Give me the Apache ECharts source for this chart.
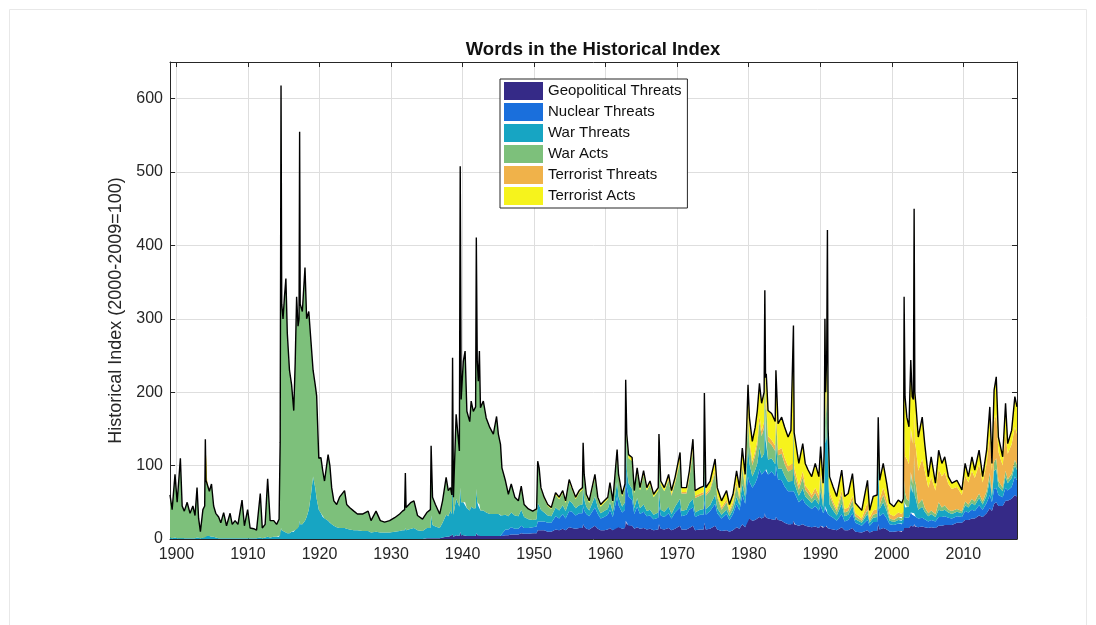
<!DOCTYPE html>
<html><head><meta charset="utf-8">
<script src="https://cdn.jsdelivr.net/npm/echarts@6/dist/echarts.min.js"></script>
<style>html,body{margin:0;padding:0;background:#fff}#c{width:1096px;height:625px}</style>
</head><body><div id="c"></div>
<script>
const years = [
1899.1,1899.4,1899.8,1900.1,1900.55,1900.8,1901.1,1901.5,1901.9,1902.3,
1902.6,1902.88,1903.1,1903.35,1903.7,1903.95,1904.04,1904.13,1904.3,1904.6,
1904.9,1905.2,1905.5,1905.9,1906.2,1906.6,1907.0,1907.5,1907.8,1908.2,
1908.6,1909.17,1909.5,1909.95,1910.3,1910.8,1911.2,1911.72,1912.0,1912.4,
1912.75,1913.1,1913.6,1914.0,1914.35,
1914.5,1914.62,1914.72,1914.9,1915.1,1915.3,1915.5,1915.8,1916.1,1916.4,
1916.6,1916.8,1917.0,1917.14,1917.22,1917.3,1917.6,1917.97,1918.2,1918.5,
1918.8,1919.1,1919.4,1919.6,1919.9,1920.2,1920.45,1920.7,1921.2,1921.45,
1921.7,1922.0,1922.4,1922.8,1923.5,1923.8,1924.2,1924.8,1925.3,1926.0,
1926.8,1927.2,1927.9,1928.5,1929.1,1929.8,1930.5,1931.2,1931.6,1931.9,
1932.0,1932.1,1932.8,1933.2,1933.7,1934.4,
1935.0,1935.5,1935.6,1935.8,1936.2,1936.8,1937.2,1937.7,1938.0,1938.3,
1938.5,1938.6,1938.72,1939.1,1939.55,1939.67,1939.8,1940.1,1940.35,1940.6,
1941.0,1941.2,1941.5,1941.82,1941.92,1942.05,1942.2,1942.35,1942.5,1942.9,
1943.3,1943.8,1944.3,1944.75,1945.0,1945.3,
1945.5,1946.0,1946.4,1946.8,1947.3,1947.8,1948.2,1948.6,1949.2,1949.8,
1950.35,1950.5,1950.7,1950.95,1951.4,1951.9,1952.4,1953.0,1953.5,1954.0,
1954.4,1954.9,1955.3,1955.8,1956.3,1956.75,1956.85,1957.0,1957.3,1957.7,
1958.5,1958.9,1959.3,1959.8,1960.3,1960.6,
1961.0,1961.6,1961.8,1962.3,1962.7,1962.8,1962.95,1963.2,1963.7,1964.0,
1964.4,1964.8,1965.3,1965.75,1966.2,1966.7,1967.35,1967.45,1967.7,1968.2,
1968.8,1969.2,1969.7,1970.4,1970.6,1971.3,1971.7,1972.2,1972.5,1973.2,
1973.7,1973.8,1974.0,1974.6,1975.3,1975.6,1976.2,1976.9,1977.3,1977.8,
1978.3,1978.7,1979.1,1979.5,1979.9,
1980.1,1980.5,1980.9,1981.2,1981.5,1981.8,1982.15,1982.25,1982.35,1982.45,
1982.7,1983.2,1983.7,1983.8,1984.1,1984.6,1985.0,1985.5,1985.9,1986.15,
1986.25,1986.35,1986.45,1987.0,1987.55,1987.9,1988.3,1988.8,1989.3,1989.8,
1990.05,1990.4,1990.55,1990.65,1990.75,1990.9,1991.0,1991.1,1991.3,1991.8,
1992.3,1993.0,1993.4,1993.9,1994.5,1994.9,1995.8,1996.6,1996.9,1997.4,
1997.95,
1998.1,1998.3,1998.8,1999.3,1999.7,2000.3,2000.9,2001.4,2001.62,2001.72,
2001.85,2002.1,2002.4,2002.65,2002.85,2003.02,2003.12,2003.22,2003.35,2003.7,
2004.25,2004.6,2005.1,2005.5,2006.1,2006.55,2007.0,2007.4,2007.9,2008.4,
2009.1,2009.8,2010.25,2010.7,2011.2,2011.6,2012.2,2012.7,2013.25,2013.7,
2014.0,2014.3,2014.6,2014.9,2015.5,2015.9,2016.2,2016.75,2017.2,2017.5
];

const geopoliticalThreats = [
0,0,0,0,0,0,0,0,0,0, 0,0,0,0,0,0,0,0,0,0, 0,0,0,0,0,0,0,0,0,0, 0,0,0,0,0,0,0,0,0,0, 0,0,0,0,0,
0,0,0,0,0,0,0,0,0,0, 0,0,0,0,0,0,0,0,0,0, 0,0,0,0,0,0,0,0,0,0, 0,0,0,0,0,0,0,0,0,0, 0,0,0,0,0,0,0,0,0,0, 0,0,0,0,0,0,
1,1,2,1,1,1,2,3,3,4, 4,6,3,5,4,10,5,5,5,4, 4,4,4,4,8,5,5,5,4,4, 4,4,4,4,4,4,
4,5,5,6,6,6,8,7,7,8, 8,12,12,12,12,10,10,13,12,14, 12,16,15,14,15,15,20,17,14,13, 18,14,12,12,13,15,
12,18,16,14,15,25,20,18,18,14, 16,14,15,13,14,12,13,20,14,13, 15,12,14,18,13,13,15,18,12,13, 13,22,13,14,18,13,11,12,10,12, 16,14,20,16,30,
28,25,26,28,30,28,30,35,30,30, 28,27,26,30,26,25,22,20,20,20, 25,20,20,18,20,18,17,16,17,15, 18,15,16,20,18,18,15,15,14,13, 12,16,12,12,15,10,9,12,9,11, 11,
20,13,15,13,10,10,11,10,11,15, 14,15,15,18,17,17,20,17,17,16, 17,16,15,16,15,18,18,19,19,19, 22,22,26,26,28,28,32,30,35,42, 38,48,50,45,45,52,52,55,60,58
];

const nuclearThreats = [
0,0,0,0,0,0,0,0,0,0, 0,0,0,0,0,0,0,0,0,0, 0,0,0,0,0,0,0,0,0,0, 0,0,0,0,0,0,0,0,0,0, 0,0,0,0,0,
0,0,0,0,0,0,0,0,0,0, 0,0,0,0,0,0,0,0,0,0, 0,0,0,0,0,0,0,0,0,0, 0,0,0,0,0,0,0,0,0,0, 0,0,0,0,0,0,0,0,0,0, 0,0,0,0,0,0,
0,0,0,0,0,0,0,0,0,0, 0,0,0,0,0,0,0,0,0,0, 0,0,0,0,0,0,0,0,0,0, 0,0,0,0,0,0,
3,8,8,10,8,8,10,8,8,8, 9,12,12,12,12,12,12,18,16,20, 16,22,22,18,20,20,25,22,20,18, 25,20,16,18,20,25,
18,40,30,22,25,80,50,40,35,20, 28,20,22,18,18,15,16,25,18,17, 20,16,22,25,18,20,25,25,18,20, 20,30,20,24,30,22,17,22,16,22, 32,25,40,32,55,
50,45,50,55,65,60,62,60,65,65, 60,65,60,70,55,55,50,45,45,45, 40,44,42,32,35,30,28,25,28,24, 28,20,22,25,22,22,20,18,18,16, 13,18,12,14,20,12,9,14,9,12, 12,
25,18,20,15,10,9,10,10,10,15, 14,14,14,18,16,16,15,14,13,12, 12,11,9,10,9,12,12,12,10,9, 9,8,12,10,12,10,14,10,14,18, 12,20,20,15,12,18,14,16,25,22
];

const warThreats = [
2,1,2,1,3,1,1,1,1,1, 1,2,1,1,2,2,5,4,4,4, 3,3,2,1,1,1,1,1,1,1, 1,1,1,1,1,1,1,2,1,2, 3,2,3,3,3,
5,15,12,10,10,10,8,8,10,10, 12,15,15,18,25,20,20,25,30,40, 60,85,70,55,40,35,30,28,25,22, 20,18,16,15,15,14,13,12,12,11, 11,9,10,9,9,9,10,11,12,12, 15,12,14,15,12,11,
14,14,30,18,16,14,20,30,28,35, 30,80,30,50,40,60,45,45,45,38, 35,40,38,38,60,45,40,42,35,35, 32,30,30,32,30,28,
25,20,18,20,18,17,22,15,12,10, 10,25,22,16,12,10,9,12,11,12, 10,14,12,10,11,12,25,15,10,8, 15,9,7,8,8,10,
7,20,12,8,10,45,25,18,15,8, 12,8,10,7,8,6,7,20,8,7, 9,6,8,12,7,7,9,12,6,7, 8,40,8,8,12,7,5,6,5,6, 10,7,15,9,40,
25,15,18,20,30,22,25,90,40,40, 20,18,16,30,15,16,15,13,14,14, 40,13,12,9,14,10,9,8,10,8, 20,8,25,130,90,100,150,50,15,10, 7,14,7,7,10,5,4,8,4,6, 7,
60,10,15,10,5,4,5,5,5,20, 15,15,15,40,30,28,40,28,25,12, 15,10,7,8,6,10,8,9,7,6, 6,5,8,7,9,8,10,7,10,20, 8,25,25,12,8,15,10,12,15,14
];

const warActs = [
58,39,86,49,107,44,37,49,34,44, 31,68,27,9,38,43,131,76,74,61, 72,42,33,29,21,35,17,34,19,24, 19,52,17,39,14,13,11,60,14,18, 79,23,22,17,24,
127,603,308,290,320,345,272,222,200,165, 228,315,275,282,530,300,290,345,270,270, 210,145,140,140,70,76,63,51,90,78, 50,34,31,42,51,33,30,26,22,23, 27,16,28,16,14,16,19,23,26,28, 65,31,36,37,20,16,
21,25,95,38,30,19,30,49,35,29, 26,161,24,115,76,438,140,192,206,132, 121,144,132,138,343,192,170,209,140,149, 129,118,109,131,109,97,
65,46,30,39,25,21,30,17,14,12, 13,55,49,28,19,13,10,17,15,17, 11,25,18,12,17,20,55,30,14,10, 25,11,9,11,13,23,
12,38,26,14,20,60,42,34,38,20, 36,24,40,28,34,24,30,70,34,28, 36,25,32,50,24,22,33,65,20,19, 20,95,18,20,30,15,7,10,5,7, 15,8,22,10,40,
25,15,20,25,35,30,35,120,40,45, 25,18,18,35,18,20,16,14,15,16, 70,14,12,8,15,9,8,6,8,6, 20,6,20,60,30,50,115,35,12,8, 5,12,5,5,8,4,3,6,3,4, 5,
30,5,10,8,3,3,4,3,4,30, 20,10,8,15,12,12,40,20,20,8, 10,6,4,5,4,10,5,6,4,4, 4,3,5,4,6,5,6,4,6,10, 5,12,15,7,5,8,5,6,8,7
];

const terroristThreats = [
0,0,0,0,0,0,0,0,0,0, 0,0,0,0,0,0,0,0,0,0, 0,0,0,0,0,0,0,0,0,0, 0,0,0,0,0,0,0,0,0,0, 0,0,0,0,0,
0,0,0,0,0,0,0,0,0,0, 0,0,0,0,0,0,0,0,0,0, 0,0,0,0,0,0,0,0,0,0, 0,0,0,0,0,0,0,0,0,0, 0,0,0,0,0,0,0,0,0,0, 0,0,0,0,0,0,
0,0,0,0,0,0,0,0,0,0, 0,0,0,0,0,0,0,0,0,0, 0,0,0,0,0,0,0,0,0,0, 0,0,0,0,0,0,
0,0,0,0,0,0,0,0,0,0, 0,0,0,0,0,0,0,0,0,0, 0,0,0,0,0,0,2,0,0,0, 0,0,0,0,0,0,
0,2,0,0,0,3,0,0,0,0, 0,0,0,0,0,0,0,0,0,0, 2,2,2,3,2,2,3,4,3,3, 3,4,3,3,4,3,3,4,3,4, 5,4,5,5,10,
7,6,6,7,8,7,8,8,7,7, 7,7,7,10,7,8,8,7,8,8, 16,8,8,6,8,6,6,5,7,6, 8,5,7,15,10,12,21,7,5,4, 4,6,5,5,6,4,3,10,4,6, 6,
10,8,10,7,6,5,6,6,7,70, 50,55,50,60,55,55,60,52,50,45, 55,50,35,45,32,45,42,45,35,30, 30,22,36,30,38,32,40,26,38,50, 30,55,60,40,30,50,35,40,45,42
];

const terroristActs = [
0,0,0,0,0,0,0,0,0,0, 0,0,0,0,0,0,0,0,0,0, 0,0,0,0,0,0,0,0,0,0, 0,0,0,0,0,0,0,0,0,0, 0,0,0,0,0,
0,0,0,0,0,0,0,0,0,0, 0,0,0,0,0,0,0,0,0,0, 0,0,0,0,0,0,0,0,0,0, 0,0,0,0,0,0,0,0,0,0, 0,0,0,0,0,0,0,0,0,0, 10,0,0,0,0,0,
0,0,0,0,0,0,0,2,0,2, 0,0,0,0,0,0,0,0,0,0, 0,0,0,0,0,0,0,0,0,0, 0,0,0,0,0,0,
0,0,0,0,0,0,2,0,0,0, 1,2,2,2,2,2,2,3,3,3, 3,4,3,3,3,3,4,4,3,3, 5,3,3,3,3,4,
3,4,4,3,5,4,6,5,5,4, 5,4,6,4,5,4,4,8,5,5, 6,5,6,10,6,6,8,12,7,8, 8,8,8,10,15,10,9,12,8,10, 15,12,22,16,35,
30,27,32,40,44,38,40,26,38,38, 35,36,33,55,36,42,42,40,46,47, 100,46,45,30,38,30,26,25,33,26, 32,22,30,50,30,48,100,25,21,20, 17,28,17,19,30,14,11,30,10,19, 19,
21,26,33,22,15,13,17,15,18,180, 81,57,51,93,64,62,275,69,60,46, 57,37,15,28,10,26,18,21,10,8, 9,7,16,8,19,11,19,8,18,40, 10,43,51,20,12,42,14,19,41,37
];

const seriesNames = ['Geopolitical Threats','Nuclear Threats','War Threats','War Acts','Terrorist Threats','Terrorist Acts'];
const seriesColors = ['#352a87','#1a6fdc','#17a5c3','#7dc07b','#f0b24a','#f6f31c'];
const xTicks = [1900,1910,1920,1930,1940,1950,1960,1970,1980,1990,2000,2010];
const yTicks = [0,100,200,300,400,500,600];

const cols = [geopoliticalThreats, nuclearThreats, warThreats, warActs, terroristThreats, terroristActs];
cols.forEach((c, i) => {
  if (c.length !== years.length) throw new Error('length mismatch ' + seriesNames[i] + ' ' + c.length + ' vs ' + years.length);
});

const FONT = '"Liberation Sans", Arial, Helvetica, sans-serif';
const AX = '#262626';
const GRID = '#dedede';

const chart = echarts.init(document.getElementById('c'), null, {renderer: 'canvas'});
// value first so that the stack is applied to the value dimension; encode maps it to y
const series = cols.map((vals, i) => ({
  name: seriesNames[i],
  type: 'line',
  stack: 'total',
  symbol: 'none',
  showSymbol: false,
  smooth: false,
  clip: true,
  silent: true,
  encode: {x: 1, y: 0},
  data: years.map((y, j) => [vals[j], y]),
  areaStyle: {color: seriesColors[i], opacity: 1},
  itemStyle: {color: seriesColors[i]},
  lineStyle: i === 5 ? {color: '#000', width: 1.4} : {width: 0, opacity: 0},
  emphasis: {disabled: true},
  z: 2
}));

chart.setOption({
  animation: false,
  backgroundColor: '#fff',
  title: {
    text: 'Words in the Historical Index',
    left: 588, top: 35, textAlign: 'center',
    textStyle: {fontSize: 18.5, fontWeight: 'bold', color: '#111', fontFamily: FONT}
  },
  graphic: [{
    type: 'rect', silent: true, z: -10,
    shape: {x: 9.5, y: 9.5, width: 1077, height: 640},
    style: {fill: 'none', stroke: '#e8e8e8', lineWidth: 1}
  }],
  legend: {
    data: seriesNames.map(n => ({name: n, icon: 'rect'})),
    orient: 'vertical', left: 500, top: 79,
    itemWidth: 39, itemHeight: 18, itemGap: 3,
    padding: [3, 6, 3, 4],
    borderColor: AX, borderWidth: 1, backgroundColor: '#fff',
    itemStyle: {borderWidth: 0},
    textStyle: {fontSize: 15, color: '#111', fontFamily: FONT},
    selectedMode: false, z: 10
  },
  grid: {left: 170, right: 79, top: 62, bottom: 86},
  xAxis: [{
    type: 'value', min: 1899.1, max: 2017.5, position: 'bottom',
    axisLine: {show: true, onZero: false, lineStyle: {color: AX, width: 1}},
    axisTick: {show: true, inside: true, length: 5, customValues: xTicks, lineStyle: {color: AX}},
    axisLabel: {show: true, customValues: xTicks, color: AX, fontSize: 16, margin: 8, fontFamily: FONT,
      formatter: v => String(v)},
    splitLine: {show: true, lineStyle: {color: GRID, width: 1}}
  }, {
    type: 'value', min: 1899.1, max: 2017.5, position: 'top',
    axisLine: {show: true, onZero: false, lineStyle: {color: AX, width: 1}},
    axisTick: {show: true, inside: true, length: 5, customValues: xTicks, lineStyle: {color: AX}},
    axisLabel: {show: false},
    splitLine: {show: false}
  }],
  yAxis: [{
    type: 'value', min: 0, max: 650, interval: 100, position: 'left',
    name: 'Historical Index (2000-2009=100)', nameLocation: 'middle', nameGap: 36,
    nameTextStyle: {fontSize: 18, color: AX, fontFamily: FONT, padding: [0, 20, 0, 0]},
    axisLine: {show: true, onZero: false, lineStyle: {color: AX, width: 1}},
    axisTick: {show: true, inside: true, length: 5, customValues: yTicks, lineStyle: {color: AX}},
    axisLabel: {show: true, customValues: yTicks, color: AX, fontSize: 16, margin: 7, fontFamily: FONT,
      formatter: v => String(v)},
    splitLine: {show: true, lineStyle: {color: GRID, width: 1}}
  }, {
    type: 'value', min: 0, max: 650, interval: 100, position: 'right',
    axisLine: {show: true, onZero: false, lineStyle: {color: AX, width: 1}},
    axisTick: {show: true, inside: true, length: 5, customValues: yTicks, lineStyle: {color: AX}},
    axisLabel: {show: false},
    splitLine: {show: false}
  }],
  series: series
});
</script>
</body></html>
